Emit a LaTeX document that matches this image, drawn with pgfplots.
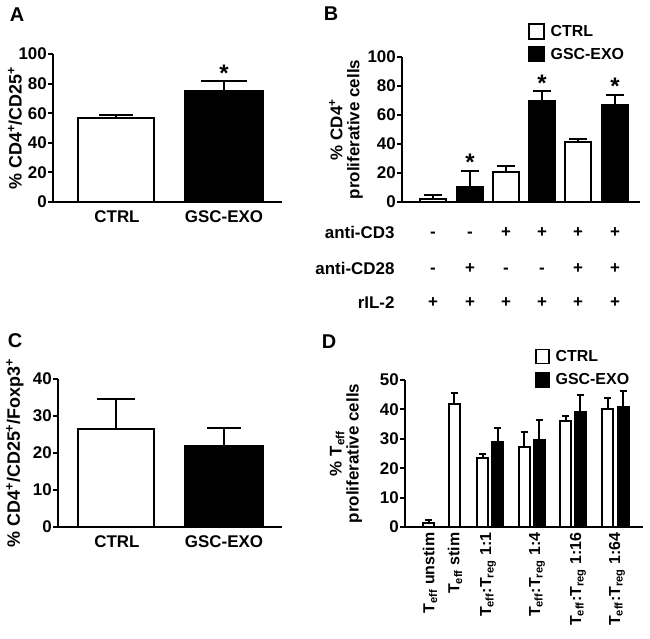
\documentclass[border=0pt]{standalone}
\usepackage{fontspec}
\setmainfont{Liberation Sans}
\usepackage{pgfplots}
\pgfplotsset{compat=1.18}
\newcommand{\fs}[1]{\fontsize{#1}{#1}\selectfont\bfseries}
\pgfplotsset{
  panel/.style={
    scale only axis,
    axis x line=bottom, axis y line=left,
    axis line style={-, line width=2bp},
    tick align=outside,
    major tick length=5bp,
    ytick style={line width=2bp, black},
    xtick style={draw=none},
    /pgf/number format/assume math mode=true,
    yticklabel style={font=\fs{17}, inner sep=1bp},
    xticklabel style={font=\fs{17}, inner sep=0pt},
    every axis y label/.style={at={(axis description cs:-0.2,0.5)}, rotate=90, anchor=center, font=\fs{17}, align=center},
    clip=false,
    error bars/y dir=plus, error bars/y explicit,
    error bars/error bar style={line width=2bp, black},
  },
  wbar/.style={ybar, bar shift=0pt, fill=white, draw=black, line width=2bp},
  bbar/.style={ybar, bar shift=0pt, fill=black, draw=black, line width=2bp},
}
\begin{document}
\begin{tikzpicture}
\useasboundingbox (0,0) rectangle (650bp,-639bp);
% panel letters
\node[font=\fs{20}] at (17bp,-15bp) {A};
\node[font=\fs{20}] at (331bp,-14bp) {B};
\node[font=\fs{20}] at (15bp,-341bp) {C};
\node[font=\fs{20}] at (329bp,-342bp) {D};

% ---------------- A
\begin{axis}[panel, at={(53bp,-202bp)}, anchor=south west,
  width=229bp, height=148bp, xmin=53, xmax=282, ymin=0, ymax=100,
  ytick={0,20,40,60,80,100}, xtick={117,224}, xticklabels={CTRL,GSC-EXO},
  xticklabel shift=3bp,
  ylabel={\% CD4\textsuperscript{+}/CD25\textsuperscript{+}},
  ylabel style={at={(axis description cs:-0.166,0.5)}, font=\fs{18}}]
\addplot[wbar, bar width=76, error bars/error mark options={rotate=90, line width=2bp, mark size=17bp}] coordinates {(116,57) +- (0,1.5)};
\addplot[bbar, bar width=78, error bars/error mark options={rotate=90, line width=2bp, mark size=23bp}] coordinates {(224,75) +- (0,6.5)};
\node[font=\fs{24}, anchor=base] at (axis cs:224,81.5) {*};
\end{axis}

% ---------------- B
\begin{axis}[panel, at={(402bp,-202bp)}, anchor=south west,
  width=238bp, height=145bp, xmin=402, xmax=640, ymin=0, ymax=100,
  ytick={0,20,40,60,80,100}, xtick=\empty,
  ylabel={\% CD4\textsuperscript{+}\\proliferative cells},
  ylabel style={at={(axis description cs:-0.235,0.5)}},
  error bars/error mark options={rotate=90, line width=2bp, mark size=9bp},
  legend style={at={(0.529,1.234)}, anchor=north west, draw=none, fill=none, font=\fs{16}, row sep=6bp, inner sep=0pt, /tikz/every odd column/.append style={column sep=4bp}},
  legend cell align=left,
  legend image code/.code={\draw[#1, line width=1.5bp] (0bp,-7.5bp) rectangle (15bp,7.5bp);},
]
\addplot[wbar, bar width=26] coordinates {(433,2) +- (0,2.8) (506,20.7) +- (0,4.1) (578,41.4) +- (0,2)};
\addplot[bbar, bar width=26] coordinates {(470,10.3) +- (0,11.1) (542,69.7) +- (0,6.8) (615,66.9) +- (0,6.9)};
\legend{CTRL, GSC-EXO}
\node[font=\fs{24}, anchor=base] at (axis cs:470,21.4) {*};
\node[font=\fs{24}, anchor=base] at (axis cs:542,76.5) {*};
\node[font=\fs{24}, anchor=base] at (axis cs:615,73.8) {*};
\end{axis}
\node[font=\fs{17}, anchor=base east] at (398bp,-238bp) {anti-CD3};
\node[font=\fs{17}, anchor=base east] at (398bp,-274bp) {anti-CD28};
\node[font=\fs{17}, anchor=base east] at (398bp,-308bp) {rIL-2};
\foreach \x/\a/\b in {433/-/-, 470/-/+, 506/+/-, 542/+/-, 578/+/+, 615/+/+} {
  \node[font=\fs{17}, anchor=base] at (\x bp,-237.5bp) {\a};
  \node[font=\fs{17}, anchor=base] at (\x bp,-273.5bp) {\b};
  \node[font=\fs{17}, anchor=base] at (\x bp,-307.5bp) {+};
}

% ---------------- C
\begin{axis}[panel, at={(58bp,-527bp)}, anchor=south west,
  width=224bp, height=148bp, xmin=58, xmax=282, ymin=0, ymax=40,
  ytick={0,10,20,30,40}, xtick={117,224}, xticklabels={CTRL,GSC-EXO},
  xticklabel shift=3bp,
  ylabel={\% CD4\textsuperscript{+}/CD25\textsuperscript{+}/Foxp3\textsuperscript{+}},
  ylabel style={at={(axis description cs:-0.192,0.5)}, font=\fs{18}}]
\addplot[wbar, bar width=76, error bars/error mark options={rotate=90, line width=2bp, mark size=19bp}] coordinates {(116,26.5) +- (0,8.1)};
\addplot[bbar, bar width=78, error bars/error mark options={rotate=90, line width=2bp, mark size=17bp}] coordinates {(224,21.9) +- (0,4.9)};
\end{axis}

% ---------------- D
\begin{axis}[panel, at={(405bp,-527bp)}, anchor=south west,
  width=238bp, height=147bp, xmin=405, xmax=643, ymin=0, ymax=50,
  ytick={0,10,20,30,40,50},
  xtick={430,455,488,537,578,617},
  xticklabels={T\textsubscript{eff} unstim, T\textsubscript{eff} stim, T\textsubscript{eff}:T\textsubscript{reg} 1:1, T\textsubscript{eff}:T\textsubscript{reg} 1:4, T\textsubscript{eff}:T\textsubscript{reg} 1:16, T\textsubscript{eff}:T\textsubscript{reg} 1:64},
  xticklabel style={rotate=90, anchor=east, font=\fs{16}},
  xticklabel shift=0.5bp,
  ylabel={\% T\textsubscript{eff}\\proliferative cells},
  ylabel style={at={(axis description cs:-0.248,0.5)}},
  error bars/error mark options={rotate=90, line width=2bp, mark size=3.5bp},
  legend style={at={(0.546,1.218)}, anchor=north west, draw=none, fill=none, font=\fs{16}, row sep=7bp, inner sep=0pt, /tikz/every odd column/.append style={column sep=4bp}},
  legend cell align=left,
  legend image code/.code={\draw[#1, line width=1.5bp] (0bp,-7bp) rectangle (13bp,7bp);},
]
\addplot[wbar, bar width=11] coordinates {(428.5,1.4) +- (0,1.0) (454,41.8) +- (0,3.8) (482.5,23.5) +- (0,1.3) (524,27.2) +- (0,5.1) (565.5,36.1) +- (0,1.7) (607.5,40.1) +- (0,3.9)};
\addplot[bbar, bar width=11] coordinates {(497.5,28.9) +- (0,4.8) (539,29.6) +- (0,6.8) (580,39.1) +- (0,5.8) (623,40.8) +- (0,5.5)};
\legend{CTRL, GSC-EXO}
\end{axis}
\end{tikzpicture}
\end{document}
